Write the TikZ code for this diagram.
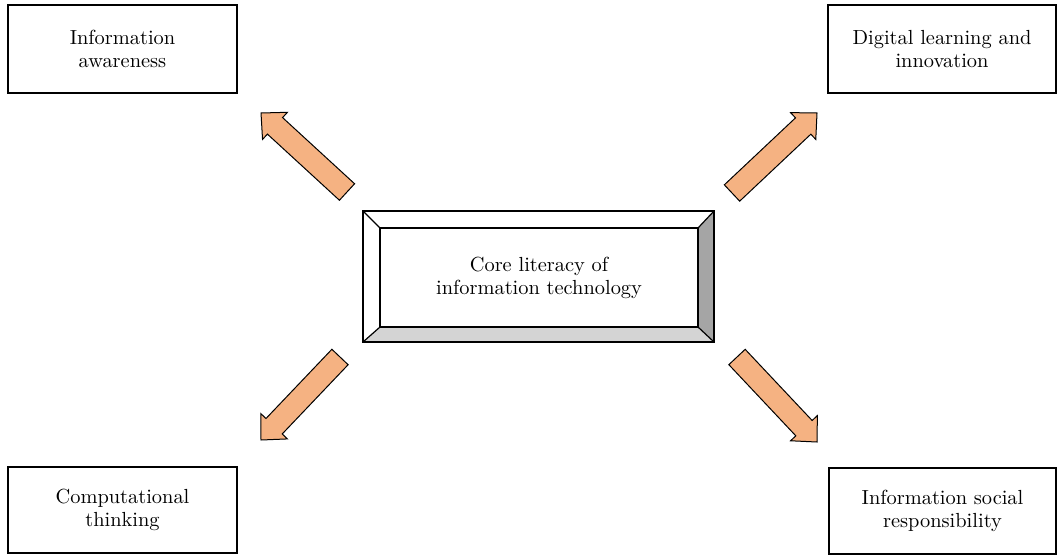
\documentclass[tikz,border=0pt]{standalone}
\usetikzlibrary{calc}
\definecolor{arrowfill}{RGB}{245,178,130}
\definecolor{bevdark}{RGB}{165,165,165}
\definecolor{bevlight}{RGB}{212,212,212}
\tikzset{
  box/.style={draw, line width=0.6pt, align=center, inner sep=0pt,
    font=\fontsize{10.2}{11.5}\selectfont},
  fat/.style={draw, fill=arrowfill, line width=0.5pt, line join=miter},
  bev/.style={draw, line width=0.6pt},
}
\newcommand\fatarrow[2]{% #1 tail, #2 tip
  \path ($(#2)!9.5pt!(#1)$) coordinate (hb);
  \draw[fat] (#2) -- ($(hb)!9.2pt!90:(#2)$) -- ($(hb)!5.6pt!90:(#2)$)
    -- ($(#1)!5.6pt!90:(#2)$) -- ($(#1)!5.6pt!-90:(#2)$)
    -- ($(hb)!5.6pt!-90:(#2)$) -- ($(hb)!9.2pt!-90:(#2)$) -- cycle;
}
\begin{document}
\begin{tikzpicture}[x=0.5pt, y=-0.5pt]
\useasboundingbox (0,0) rectangle (1058,556);
% corner boxes
\node[box, minimum width=114.5pt, minimum height=44pt] (ia) at (122.5,49) {Information\\awareness};
\node[box, minimum width=114pt, minimum height=44pt] (dl) at (942,49) {Digital learning and\\innovation};
\node[box, minimum width=114.5pt, minimum height=43pt] (ct) at (122.5,510) {Computational\\thinking};
\node[box, minimum width=113.5pt, minimum height=43pt] (is) at (942.5,511) {Information social\\responsibility};
% central bevelled box
\coordinate (A) at (363,211); \coordinate (B) at (714,211);
\coordinate (C) at (714,342); \coordinate (D) at (363,342);
\coordinate (a) at (380,228); \coordinate (b) at (698,228);
\coordinate (c) at (698,327); \coordinate (d) at (380,327);
\fill[bevdark] (B) -- (C) -- (c) -- (b) -- cycle;
\fill[bevlight] (D) -- (C) -- (c) -- (d) -- cycle;
\draw[bev] (A) rectangle (C);
\draw[bev] (a) rectangle (c);
\draw[bev] (A) -- (a) (B) -- (b) (C) -- (c) (D) -- (d);
\node[align=center, font=\fontsize{10.2}{11.5}\selectfont] (core) at (539,277.5) {Core literacy of\\information technology};
% arrows
\coordinate (t1) at (347,192); \coordinate (p1) at (261,113);
\coordinate (t2) at (732,193); \coordinate (p2) at (817,113);
\coordinate (t3) at (340,357); \coordinate (p3) at (261,440);
\coordinate (t4) at (737,357); \coordinate (p4) at (817,442);
\fatarrow{t1}{p1}
\fatarrow{t2}{p2}
\fatarrow{t3}{p3}
\fatarrow{t4}{p4}
\end{tikzpicture}
\end{document}
